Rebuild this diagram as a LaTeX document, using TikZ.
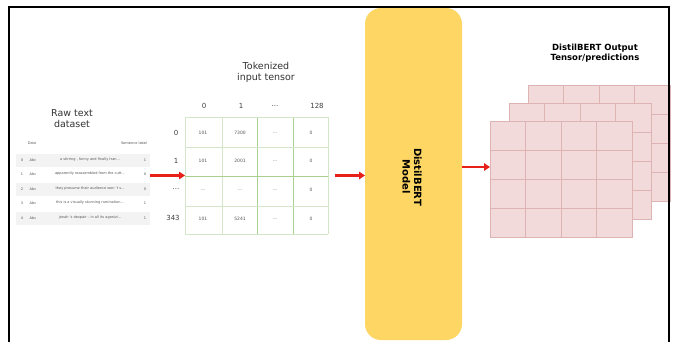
\documentclass[tikz,border=0pt]{standalone}
\usepackage{fontspec}
\setmainfont{DejaVu Sans}
\usetikzlibrary{arrows.meta,calc}
\definecolor{gold}{HTML}{FDD663}
\definecolor{pinkfill}{HTML}{F3DADA}
\definecolor{pinkline}{HTML}{DDB3B3}
\definecolor{lgreen}{HTML}{D3E6C8}
\definecolor{dgreen}{HTML}{A9D08E}
\definecolor{arrowred}{HTML}{E8201A}
\definecolor{rowgray}{HTML}{F3F3F3}
\definecolor{txtgray}{HTML}{555555}
\newcommand\tdots{...}
\tikzset{
  frameline/.style={line width=2pt, black},
  redarrow/.style={draw=arrowred, line width=2.3pt, -{Triangle[length=6pt,width=7.5pt]}},
  title/.style={font=\fontsize{9.5}{11}\selectfont, align=center, text=black!80},
  boldtitle/.style={font=\fontsize{8.5}{10}\selectfont\bfseries, align=center},
  hdr/.style={font=\fontsize{7}{8}\selectfont, text=black!75},
  cell/.style={font=\fontsize{4.5}{4.5}\selectfont, text=txtgray},
  tiny/.style={font=\fontsize{3.5}{3.5}\selectfont, text=txtgray, inner sep=0pt},
  layer/.style={draw=pinkline, fill=pinkfill, minimum width=142pt, minimum height=116pt, inner sep=0pt, outer sep=0pt, anchor=north west},
  model/.style={fill=gold, rounded corners=16pt, minimum width=97pt, minimum height=332pt, inner sep=0pt, outer sep=0pt}
}
\begin{document}
\begin{tikzpicture}[x=1pt,y=-1pt]
\useasboundingbox (0,0) rectangle (677,341);
\fill[white] (0,0) rectangle (677,341);

% ---------- raw text dataset ----------
\node[title] (rawlabel) at (72,119) {Raw text\\dataset};
\node[minimum width=135pt, minimum height=90pt, inner sep=0pt, outer sep=0pt] (raw) at (82.5,181) {};
\foreach \y in {160,189,218} {
  \fill[rowgray] (16,\y-6.5) rectangle (150,\y+6.5);
}
\node[tiny] (h1) at (32,143) {Date};
\node[tiny] (h2) at (134,143) {Sentence label};
\foreach \r/\y/\s/\l in {
  0/160/{a stirring , funny and finally tran\tdots}/1,
  1/174/{apparently reassembled from the cutt\tdots}/0,
  2/189/{they presume their audience won 't s\tdots}/0,
  3/203/{this is a visually stunning rumination\tdots}/1,
  4/218/{jonah 's despair -- in all its agonizi\tdots}/1} {
  \node[tiny] at (22,\y) {\r};
  \node[tiny] at (33,\y) {Abc};
  \node[tiny] at (90,\y) {\s};
  \node[tiny] at (145,\y) {\l};
}

% ---------- tokenized input tensor ----------
\node[title] (toklabel) at (266,72) {Tokenized\\input tensor};
\node[minimum width=143pt, minimum height=117pt, inner sep=0pt, outer sep=0pt] (grid) at (256.5,175.5) {};
\foreach \x in {185,222} { \draw[lgreen, line width=0.6pt] (\x,117) -- (\x,234); }
\foreach \x in {257,293} { \draw[dgreen, line width=0.6pt] (\x,117) -- (\x,234); }
\draw[lgreen, line width=0.6pt] (328,117) -- (328,234);
\foreach \y in {117,147,206,234} { \draw[lgreen, line width=0.6pt] (185,\y) -- (328,\y); }
\draw[dgreen, line width=0.6pt] (185,176) -- (328,176);
% column headers
\node[hdr] (c0) at (204,106) {0};
\node[hdr] (c1) at (241,106) {1};
\node[hdr] (c2) at (275,106) {\tdots};
\node[hdr] (c3) at (317,106) {128};
% row labels
\node[hdr] (r0) at (176,133) {0};
\node[hdr] (r1) at (176,161) {1};
\node[hdr] (r2) at (176,189) {\tdots};
\node[hdr] (r3) at (173,218) {343};
% cell values
\foreach \y/\a/\b in {133/101/7300, 161/101/2001, 190/\tdots/\tdots, 219/101/5241} {
  \node[cell] at (203,\y) {\a};
  \node[cell] at (240,\y) {\b};
  \node[cell] at (275,\y) {\tdots};
  \node[cell] at (311,\y) {0};
}

% ---------- model ----------
\node[model] (model) at (413.5,174) {};
\node[rotate=-90, font=\fontsize{10}{11.5}\selectfont\bfseries, align=center] (modeltext) at (412,177) {DistilBERT\\Model};

% ---------- output tensors ----------
\node[boldtitle] (outlabel) at (595,53) {DistilBERT Output\\Tensor/predictions};
\foreach \n/\x/\y in {back/528/85, mid/509/103, front/490/121} {
  \node[layer] (\n) at (\x,\y) {};
  \foreach \i in {1,2,3} {
    \draw[pinkline, line width=0.5pt] ($(\n.north west)+(\i*35.5,0)$) -- ($(\n.south west)+(\i*35.5,0)$);
    \draw[pinkline, line width=0.5pt] ($(\n.north west)+(0,\i*29)$) -- ($(\n.north east)+(0,\i*29)$);
  }
}

% ---------- arrows ----------
\draw[redarrow] (raw.east |- grid.west) -- (grid.west);
\draw[redarrow] ([xshift=7pt]grid.east) -- (model.west |- grid.east);
\coordinate (a3) at ([yshift=7pt]model.east);
\draw[redarrow] (a3) -- (a3 -| front.west);

% ---------- frame ----------
\draw[frameline] (9,345) -- (9,7) -- (669,7) -- (669,345);
\end{tikzpicture}
\end{document}
